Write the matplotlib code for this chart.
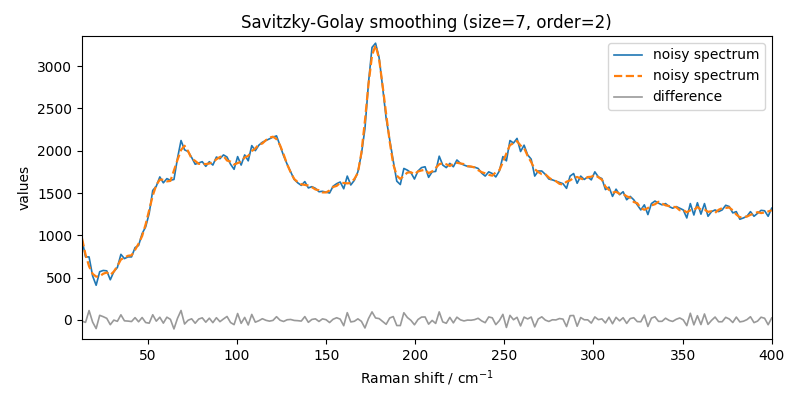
import numpy as np
import matplotlib
matplotlib.use("Agg")
import matplotlib.pyplot as plt

# noisy Raman spectrum values, evenly spaced from 13 to 400 cm^-1
noisy = [
    950, 745, 745, 520, 410, 570, 585, 580, 475, 570,
    620, 775, 725, 745, 745, 855, 880, 1020, 1100, 1260,
    1530, 1580, 1690, 1620, 1670, 1650, 1660, 1910, 2120, 2010,
    1990, 1920, 1840, 1855, 1870, 1815, 1870, 1830, 1925, 1905,
    1950, 1925, 1840, 1780, 1930, 1830, 1950, 1880, 2060, 2000,
    2065, 2100, 2120, 2140, 2160, 2175, 2060, 1940, 1840, 1750,
    1660, 1620, 1590, 1635, 1560, 1575, 1555, 1515, 1520, 1510,
    1500, 1580, 1610, 1630, 1550, 1700, 1595, 1650, 1750, 1960,
    2260, 2800, 3220, 3270, 3100, 2750, 2380, 2130, 1880, 1640,
    1600, 1790, 1770, 1740, 1665, 1760, 1800, 1810, 1685, 1750,
    1755, 1935, 1830, 1800, 1850, 1810, 1890, 1850, 1830, 1815,
    1810, 1805, 1790, 1735, 1700, 1750, 1730, 1690, 1760, 1930,
    1880, 2120, 2090, 2145, 1990, 2065, 1950, 1900, 1700, 1760,
    1760, 1720, 1665, 1655, 1640, 1625, 1610, 1555, 1700, 1730,
    1615, 1700, 1660, 1690, 1655, 1750, 1690, 1670, 1540, 1570,
    1460, 1545, 1480, 1515, 1420, 1460, 1420, 1360, 1300, 1360,
    1245, 1375, 1405, 1380, 1360, 1375, 1340, 1320, 1340, 1320,
    1300, 1205, 1375, 1240, 1385, 1250, 1375, 1225, 1280, 1300,
    1280, 1300, 1355, 1340, 1265, 1280, 1190, 1205, 1225, 1280,
    1225, 1260, 1295, 1290, 1225, 1320,
]
x_start, x_end = 13, 400
window, order = 7, 2

noisy = np.asarray(noisy, dtype=float)
x = np.linspace(x_start, x_end, len(noisy))


def savgol(y, window, order):
    half = window // 2
    out = np.empty_like(y)
    t = np.arange(-half, half + 1)
    A = np.vander(t, order + 1, increasing=True)
    coeffs = np.linalg.pinv(A)[0]
    for i in range(half, len(y) - half):
        out[i] = np.dot(coeffs, y[i - half:i + half + 1])
    # edges: polynomial fit to first / last window
    tt = np.arange(window)
    p = np.polyfit(tt, y[:window], order)
    out[:half] = np.polyval(p, tt[:half])
    p = np.polyfit(tt, y[-window:], order)
    out[-half:] = np.polyval(p, tt[-half:])
    return out


smooth = savgol(noisy, window, order)
diff = noisy - smooth

fig, ax = plt.subplots(figsize=(8, 4), dpi=100)
fig.subplots_adjust(left=0.1025, right=0.9646, top=0.91, bottom=0.1525)
ax.plot(x, noisy, color="#1f77b4", lw=1.2, label="noisy spectrum")
ax.plot(x, smooth, color="#ff7f0e", lw=1.6, ls="--", label="noisy spectrum")
ax.plot(x, diff, color="grey", alpha=0.8, lw=1.2, label="difference")
ax.set_xlim(x.min(), x.max())
ax.set_ylim(-225, 3355)
ax.set_title("Savitzky-Golay smoothing (size=7, order=2)")
ax.set_xlabel(r"Raman shift / cm$^{-1}$")
ax.set_ylabel("values")
ax.legend(loc="upper right")
fig.savefig("out.png", dpi=100)
